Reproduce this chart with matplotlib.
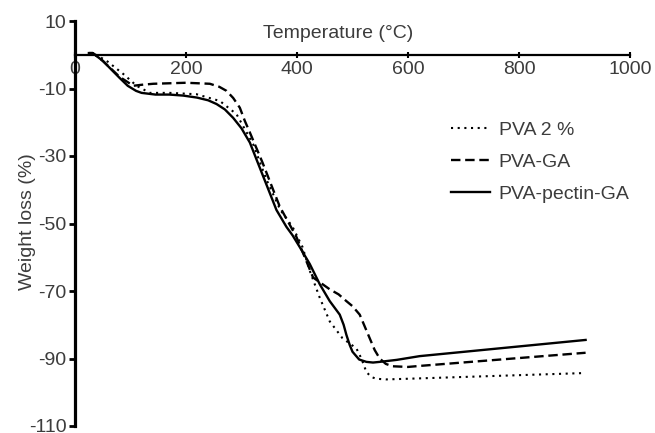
import matplotlib
matplotlib.use("Agg")
import matplotlib.pyplot as plt

plt.rcParams["font.family"] = ["Liberation Sans", "DejaVu Sans"]
plt.rcParams["axes.unicode_minus"] = False

# PVA 2 % (dotted)
t_pva = [25, 32, 57, 87, 111, 135, 171, 219, 261, 291, 321, 345, 370, 392,
         410, 423, 441, 459, 482, 497, 507, 516, 525, 534, 543, 560, 600, 920]
w_pva = [0.5, 0.5, -1.8, -5.7, -9.2, -11.3, -11.3, -11.7, -13.7, -17.6, -26.5,
         -37, -46, -51, -57, -64, -72, -79, -84, -85.8, -87, -90, -94, -95.5,
         -96, -96.2, -96, -94.3]

# PVA-GA (dashed)
t_ga = [25, 32, 50, 80, 105, 120, 141, 200, 243, 260, 273, 285, 297, 306, 315,
        338, 357, 369, 399, 429, 459, 475, 489, 500, 513, 522, 531, 540, 549,
        560, 572, 600, 621, 920]
w_ga = [0.5, 0.5, -1.8, -6.5, -9.2, -8.9, -8.6, -8.3, -8.6, -9.5, -10.7, -12.8,
        -15.7, -19.6, -23, -32, -40, -45, -54, -66, -69.5, -71, -73, -74.5, -77,
        -80.5, -84, -87.5, -90, -91.6, -92.3, -92.5, -92.2, -88.3]

# PVA-pectin-GA (solid)
t_pec = [25, 32, 50, 80, 95, 110, 120, 145, 170, 195, 220, 240, 255, 270, 285,
         300, 315, 333, 351, 363, 381, 392, 405, 423, 441, 459, 468, 477, 484,
         489, 495, 500, 512, 525, 537, 549, 580, 621, 920]
w_pec = [0.5, 0.5, -1.8, -6.8, -9.2, -10.7, -11.3, -11.8, -11.8, -12.1, -12.7,
         -13.5, -14.6, -16.2, -18.7, -21.8, -26, -33.5, -41, -46, -51, -53.5,
         -57, -62, -68, -73, -75, -77, -80, -83, -86, -88, -90.3, -91, -91.2,
         -91, -90.4, -89.3, -84.5]

xticks = [0, 200, 400, 600, 800, 1000]
yticks = [10, -10, -30, -50, -70, -90, -110]
txt = "#3c3c3c"

fig = plt.figure(figsize=(6.55, 4.33), dpi=100)
ax = fig.add_axes([75 / 655, 7 / 433, 555 / 655, 405 / 433])

ax.plot(t_pva, w_pva, color="black", lw=1.5, ls=(0, (1, 2.2)), label="PVA 2 %")
ax.plot(t_ga, w_ga, color="black", lw=1.7, ls=(0, (4, 2)), label="PVA-GA")
ax.plot(t_pec, w_pec, color="black", lw=1.7, label="PVA-pectin-GA")

ax.set_xlim(0, 1000)
ax.set_ylim(-110, 10)
ax.spines["top"].set_visible(False)
ax.spines["right"].set_visible(False)
ax.spines["bottom"].set_position(("data", 0))
ax.spines["bottom"].set_linewidth(1.6)
ax.spines["left"].set_linewidth(2.3)

ax.set_xticks(xticks)
ax.set_yticks(yticks)
ax.set_yticklabels([str(v) for v in yticks])
ax.tick_params(axis="x", direction="inout", length=5, width=1.5, pad=2,
               labelsize=14, labelcolor=txt)
ax.tick_params(axis="y", direction="out", length=4, width=2, pad=2,
               labelsize=14, labelcolor=txt)

ax.text(0.474, 0.968, "Temperature (°C)", transform=ax.transAxes,
        ha="center", va="center", fontsize=14, color=txt)
ax.set_ylabel("Weight loss (%)", fontsize=14, color=txt)
ax.yaxis.set_label_coords(-0.07, 0.505)

leg = ax.legend(loc="upper left", bbox_to_anchor=(451 / 655, 1 - 121 / 433),
                bbox_transform=fig.transFigure, frameon=False, fontsize=14,
                handlelength=2.0, handletextpad=0.45, labelspacing=0.75,
                borderpad=0, borderaxespad=0)
for t in leg.get_texts():
    t.set_color(txt)

fig.savefig("out.png", dpi=100)
